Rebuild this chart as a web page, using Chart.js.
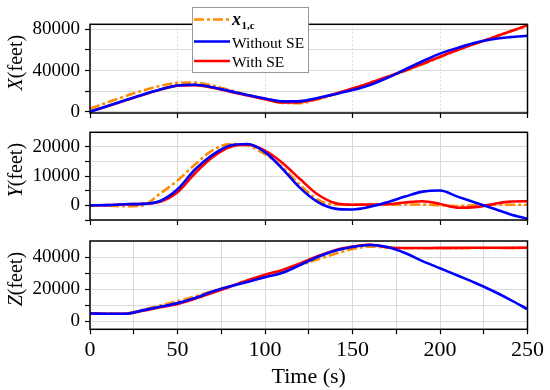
<!DOCTYPE html>
<html>
<head>
<meta charset="utf-8">
<script src="https://cdn.jsdelivr.net/npm/chart.js@4.4.1/dist/chart.umd.min.js"></script>
<style>
  body { margin: 0; background: #fff; }
  #wrap { position: relative; width: 550px; height: 390px; }
  canvas { position: absolute; left: 0; }
</style>
</head>
<body>
<div id="wrap">
  <canvas id="grafX" width="550" height="120" style="top:0px"></canvas>
  <canvas id="grafY" width="550" height="105" style="top:122px"></canvas>
  <canvas id="grafZ" width="550" height="158" style="top:232px"></canvas>
</div>
<script>
// Tiempo (s)
const timeS = [0, 10, 20, 30, 40, 50, 60, 70, 80, 90, 100, 110, 120, 130, 140, 150, 160, 170, 180, 190, 200, 210, 220, 230, 240, 250];

// X (feet)
const xCmd     = [3000, 9000, 15000, 20500, 25000, 28000, 28300, 25500, 21000, 16500, 12000, 8500, 8300, 12000, 17000, 22500, 28000, 33500, 39500, 46000, 53000, 60000, 66000, 72000, 78000, 83500];
const xWithout = [0, 5500, 11000, 16500, 21500, 25500, 26200, 23800, 20000, 16200, 12800, 10000, 10300, 13300, 17000, 21000, 26000, 33000, 41000, 49000, 56500, 62000, 67000, 70500, 72500, 73800];
const xWith    = [0, 5300, 10800, 16300, 21300, 25300, 25800, 23300, 19500, 15700, 12200, 9000, 9300, 12500, 17500, 22500, 28000, 34000, 40000, 46500, 53500, 60000, 66000, 72000, 78000, 84000];

// Y (feet)
const yCmd     = [0, -100, -300, 0, 4000, 8500, 14000, 18800, 21000, 20500, 17500, 13000, 7000, 2000, 300, 200, 200, 200, 300, 300, 0, -200, 0, 200, 200, 200];
const yWithout = [0, 100, 400, 500, 1500, 5500, 12300, 17300, 20500, 21000, 18200, 12500, 6000, 1200, -1100, -1400, -500, 1100, 3000, 4700, 5100, 3000, 1000, -1000, -3000, -4600];
const yWith    = [0, 100, 400, 500, 1200, 4500, 11000, 16500, 20000, 20800, 18700, 14500, 9000, 3800, 800, 200, 300, 400, 1000, 1400, 500, -800, -600, 400, 1300, 1400];

// Z (feet)
const zCmd     = [4800, 4700, 4800, 7200, 9800, 12500, 15500, 18800, 21800, 25000, 28500, 31500, 35000, 38500, 42000, 45000, 46500, 46000, 45500, 45500, 45500, 45500, 45600, 45600, 45700, 45800];
const zWithout = [4800, 4700, 4700, 6800, 9000, 11300, 14500, 18500, 21800, 24500, 27400, 30200, 35000, 40000, 44000, 46300, 47500, 46200, 42500, 37500, 33000, 28500, 24000, 19000, 13500, 7500];
const zWith    = [4800, 4700, 4700, 6500, 8700, 10700, 14000, 17800, 21500, 25500, 29000, 32000, 36000, 40500, 44300, 46500, 47800, 46000, 45600, 45600, 45700, 45700, 45800, 45800, 45700, 45800];

// Marcas de los ejes
const xTicksTop = [0, 50, 100, 150, 200, 250];
const xTicksBottom = [0, 25, 50, 75, 100, 125, 150, 175, 200, 225, 250];
const xLabels = [0, 50, 100, 150, 200, 250];
const yTicksX = [0, 20000, 40000, 60000, 80000];
const yLabelsX = [0, 40000, 80000];
const yTicksY = [-5000, 0, 5000, 10000, 15000, 20000];
const yLabelsY = [0, 10000, 20000];
const yTicksZ = [0, 10000, 20000, 30000, 40000];
const yLabelsZ = [0, 20000, 40000];

const FONT = '"Liberation Serif", "Times New Roman", serif';
const AZUL = '#0000ff';
const ROJO = '#ff0000';
const NARANJA = '#ff8c00';

function puntos(valores) {
    return timeS.map((t, i) => ({ x: t, y: valores[i] }));
}

function series(cmd, sin, con) {
    const base = { pointRadius: 0, borderWidth: 2.6, fill: false, cubicInterpolationMode: 'monotone' };
    // el primero se dibuja encima
    return [
        Object.assign({ label: 'Without SE', data: puntos(sin), borderColor: AZUL }, base),
        Object.assign({ label: 'With SE', data: puntos(con), borderColor: ROJO }, base),
        Object.assign({ label: 'x1,c', data: puntos(cmd), borderColor: NARANJA, borderDash: [10, 3, 3, 3] }, base)
    ];
}

// Marco, etiqueta del eje Y y leyenda
const marcoPlugin = {
    id: 'marco',
    afterDraw(chart, args, opts) {
        const ctx = chart.ctx;
        const a = chart.chartArea;
        ctx.save();
        ctx.strokeStyle = '#000';
        ctx.lineWidth = 1.5;
        ctx.strokeRect(a.left, a.top, a.right - a.left, a.bottom - a.top);
        ctx.restore();

        // etiqueta vertical
        ctx.save();
        ctx.translate(17, (a.top + a.bottom) / 2 - 6);
        ctx.rotate(-Math.PI / 2);
        ctx.fillStyle = '#000';
        ctx.textBaseline = 'middle';
        ctx.font = 'italic 20px ' + FONT;
        const w1 = ctx.measureText(opts.letra).width;
        ctx.font = '20px ' + FONT;
        const w2 = ctx.measureText('(feet)').width;
        const x0 = -(w1 + w2) / 2;
        ctx.font = 'italic 20px ' + FONT;
        ctx.fillText(opts.letra, x0, 0);
        ctx.font = '20px ' + FONT;
        ctx.fillText('(feet)', x0 + w1, 0);
        ctx.restore();

        if (opts.leyenda) {
            ctx.save();
            ctx.fillStyle = '#fff';
            ctx.fillRect(192, 7, 116, 65);
            ctx.strokeStyle = '#999';
            ctx.lineWidth = 1;
            ctx.strokeRect(192.5, 7.5, 116, 65);
            const filas = [
                { color: NARANJA, dash: [10, 3, 3, 3], y: 19.5 },
                { color: AZUL, dash: [], y: 41.5, texto: 'Without SE', base: 48 },
                { color: ROJO, dash: [], y: 61, texto: 'With SE', base: 66.5 }
            ];
            filas.forEach(f => {
                ctx.strokeStyle = f.color;
                ctx.lineWidth = 2.6;
                ctx.setLineDash(f.dash);
                ctx.beginPath();
                ctx.moveTo(194, f.y);
                ctx.lineTo(230, f.y);
                ctx.stroke();
            });
            ctx.setLineDash([]);
            ctx.fillStyle = '#000';
            ctx.textBaseline = 'alphabetic';
            ctx.font = 'bold italic 18px ' + FONT;
            ctx.fillText('x', 232, 25);
            const wx = ctx.measureText('x').width;
            ctx.font = 'bold 11px ' + FONT;
            ctx.fillText('1,c', 232 + wx + 0.5, 28.5);
            ctx.font = '15.5px ' + FONT;
            ctx.fillText(filas[1].texto, 232, filas[1].base);
            ctx.fillText(filas[2].texto, 232, filas[2].base);
            ctx.restore();
        }
    }
};

function ejeX(ticksX, abajo, punteado) {
    return {
        type: 'linear',
        min: 0,
        max: 250,
        afterBuildTicks: s => { s.ticks = ticksX.map(v => ({ value: v })); },
        afterFit: s => {
            s.height = abajo ? 60.7 : 7;
            s.paddingLeft = 0;
            s.paddingRight = 0;
        },
        ticks: {
            display: abajo,
            color: '#000',
            padding: 3,
            maxRotation: 0,
            autoSkip: false,
            font: { family: FONT, size: 22 },
            callback: v => xLabels.includes(v) ? String(v) : ''
        },
        grid: {
            color: '#d9d9d9',
            lineWidth: 1,
            tickLength: 5,
            tickColor: '#000',
            tickWidth: 1.2
        },
        border: { display: false, dash: punteado ? [2, 2] : [] },
        title: {
            display: abajo,
            text: 'Time (s)',
            color: '#000',
            font: { family: FONT, size: 22 },
            padding: { top: 0, bottom: 0 }
        }
    };
}

function ejeY(min, max, ticksY, labelsY) {
    return {
        min: min,
        max: max,
        afterBuildTicks: s => { s.ticks = ticksY.map(v => ({ value: v })); },
        afterFit: s => {
            s.width = 90;
            s.paddingTop = 0;
            s.paddingBottom = 0;
        },
        ticks: {
            color: '#000',
            padding: 5,
            autoSkip: false,
            font: { family: FONT, size: 19 },
            callback: v => labelsY.includes(v) ? String(v) : ''
        },
        grid: {
            color: '#d9d9d9',
            lineWidth: 1,
            tickLength: 5,
            tickColor: '#000',
            tickWidth: 1.2
        },
        border: { display: false }
    };
}

function crearGrafico(id, datasets, x, y, padTop, letra, leyenda) {
    const ctx = document.getElementById(id).getContext('2d');
    return new Chart(ctx, {
        type: 'line',
        data: { datasets: datasets },
        options: {
            responsive: false,
            animation: false,
            devicePixelRatio: 1,
            layout: { padding: { top: padTop, left: 0, right: 22.5, bottom: 0 } },
            scales: { x: x, y: y },
            plugins: {
                legend: { display: false },
                tooltip: { enabled: false },
                marco: { letra: letra, leyenda: leyenda }
            }
        },
        plugins: [marcoPlugin]
    });
}

document.addEventListener('DOMContentLoaded', function() {
    crearGrafico('grafX', series(xCmd, xWithout, xWith), ejeX(xTicksTop, false, true), ejeY(-1300, 85000, yTicksX, yLabelsX), 24.3, 'X', true);
    crearGrafico('grafY', series(yCmd, yWithout, yWith), ejeX(xTicksTop, false, false), ejeY(-5000, 25000, yTicksY, yLabelsY), 10.3, 'Y', false);
    crearGrafico('grafZ', series(zCmd, zWithout, zWith), ejeX(xTicksBottom, true, false), ejeY(-5000, 50000, yTicksZ, yLabelsZ), 9, 'Z', false);
});
</script>
</body>
</html>
